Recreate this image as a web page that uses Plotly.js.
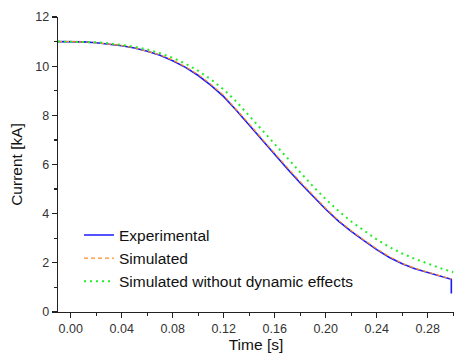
<!DOCTYPE html>
<html>
<head>
<meta charset="utf-8">
<script src="https://cdn.plot.ly/plotly-3.0.1.min.js"></script>
<style>html,body{margin:0;padding:0;background:#fff;}#chart{width:454px;height:358px;}</style>
</head>
<body>
<div id="chart"></div>
<script>
const timeExp = [-0.01, 0.00, 0.01, 0.02, 0.03, 0.04, 0.05, 0.06, 0.07, 0.08, 0.09, 0.10, 0.11, 0.12, 0.13, 0.14, 0.15, 0.16, 0.17, 0.18, 0.19, 0.20, 0.21, 0.22, 0.23, 0.24, 0.25, 0.26, 0.27, 0.28, 0.29, 0.2985, 0.2985];
const currentExp = [11.00, 11.00, 10.99, 10.95, 10.90, 10.83, 10.74, 10.61, 10.44, 10.22, 9.95, 9.62, 9.22, 8.76, 8.20, 7.60, 7.00, 6.40, 5.82, 5.25, 4.70, 4.18, 3.70, 3.28, 2.90, 2.54, 2.22, 1.96, 1.76, 1.60, 1.46, 1.33, 0.75];

const timeSim = [-0.01, 0.00, 0.01, 0.02, 0.03, 0.04, 0.05, 0.06, 0.07, 0.08, 0.09, 0.10, 0.11, 0.12, 0.13, 0.14, 0.15, 0.16, 0.17, 0.18, 0.19, 0.20, 0.21, 0.22, 0.23, 0.24, 0.25, 0.26, 0.27, 0.28, 0.29, 0.2985];
const currentSim = [11.00, 11.00, 10.99, 10.95, 10.90, 10.84, 10.75, 10.62, 10.46, 10.25, 9.98, 9.66, 9.26, 8.81, 8.25, 7.65, 7.05, 6.45, 5.87, 5.30, 4.74, 4.22, 3.73, 3.31, 2.93, 2.57, 2.25, 1.98, 1.78, 1.61, 1.47, 1.34];

const timeNoDyn = [-0.01, 0.00, 0.01, 0.02, 0.03, 0.04, 0.05, 0.06, 0.07, 0.08, 0.09, 0.10, 0.11, 0.12, 0.13, 0.14, 0.15, 0.16, 0.17, 0.18, 0.19, 0.20, 0.21, 0.22, 0.23, 0.24, 0.25, 0.26, 0.27, 0.28, 0.29, 0.30];
const currentNoDyn = [11.00, 11.00, 11.00, 10.97, 10.93, 10.87, 10.79, 10.68, 10.53, 10.34, 10.10, 9.81, 9.46, 9.05, 8.55, 7.98, 7.40, 6.81, 6.23, 5.66, 5.11, 4.59, 4.11, 3.68, 3.30, 2.95, 2.64, 2.38, 2.16, 1.96, 1.78, 1.62];

const seriesNames = ['Experimental', 'Simulated', 'Simulated without dynamic effects'];
const xTicks = [0.00, 0.04, 0.08, 0.12, 0.16, 0.20, 0.24, 0.28];
const xTickText = ['0.00', '0.04', '0.08', '0.12', '0.16', '0.20', '0.24', '0.28'];
const yTicks = [0, 2, 4, 6, 8, 10, 12];

const font = 'Liberation Sans, Arial, sans-serif';

const traces = [
  {x: timeExp, y: currentExp, name: seriesNames[0], mode: 'lines', line: {color: '#1a1aff', width: 1.6}},
  {x: timeSim, y: currentSim, name: seriesNames[1], mode: 'lines', line: {color: '#ff8c26', width: 1.2, dash: '4px,3px'}},
  {x: timeNoDyn, y: currentNoDyn, name: seriesNames[2], mode: 'lines', line: {color: '#22ee22', width: 2, dash: '2px,4px'}}
];

const axisCommon = {
  showline: true, linecolor: '#222', linewidth: 1.3, mirror: false,
  showgrid: false, zeroline: false,
  ticks: 'outside', ticklen: 5, tickwidth: 1.3, tickcolor: '#222',
  tickfont: {family: font, size: 12.5, color: '#333'}
};

const layout = {
  width: 454, height: 358,
  margin: {l: 58, r: 0, t: 17, b: 46},
  paper_bgcolor: '#fff', plot_bgcolor: '#fff',
  showlegend: true,
  legend: {x: 0.053, y: 0.317, xanchor: 'left', yanchor: 'top', bgcolor: 'rgba(0,0,0,0)',
           font: {family: font, size: 15.5, color: '#111'}, tracegroupgap: 0, itemwidth: 30},
  xaxis: Object.assign({}, axisCommon, {
    range: [-0.01, 0.3006], tickvals: xTicks, ticktext: xTickText,
    minor: {dtick: 0.02, tick0: 0, ticks: 'outside', ticklen: 3, tickwidth: 1.2, tickcolor: '#222'},
    title: {text: 'Time [s]', font: {family: font, size: 15.5, color: '#111'}, standoff: 4}
  }),
  yaxis: Object.assign({}, axisCommon, {
    range: [0, 12], tickvals: yTicks,
    minor: {dtick: 1, tick0: 0, ticks: 'outside', ticklen: 3, tickwidth: 1.2, tickcolor: '#222'},
    title: {text: 'Current [kA]', font: {family: font, size: 15.5, color: '#111'}, standoff: 9}
  })
};

Plotly.newPlot('chart', traces, layout, {staticPlot: true, displayModeBar: false});
</script>
</body>
</html>
